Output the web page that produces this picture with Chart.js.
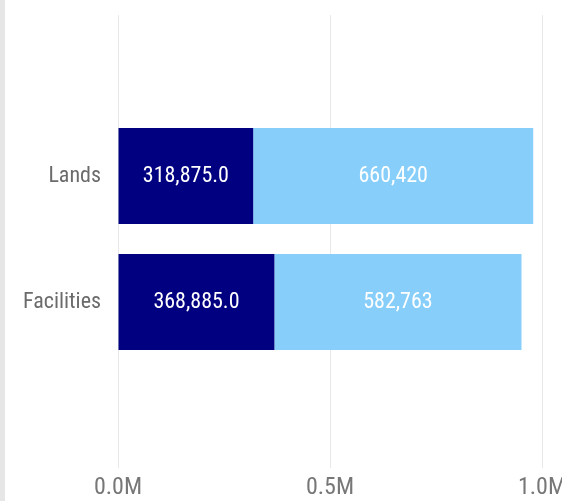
<!DOCTYPE html>
<html>
<head>
<meta charset="utf-8">
<script src="https://cdn.jsdelivr.net/npm/chart.js@4.4.1/dist/chart.umd.min.js"></script>
<style>
html, body { margin: 0; padding: 0; background: #fff; }
#wrap { position: relative; width: 562px; height: 501px; }
#edge { position: absolute; left: 0; top: 0; width: 5px; height: 501px; background: #e6e6e6; }
</style>
</head>
<body>
<div id="wrap">
  <canvas id="chart" width="562" height="501"></canvas>
  <div id="edge"></div>
</div>
<script>
// chart data
const categories = ['Lands', 'Facilities'];
const firstValues = [318875.0, 368885.0];
const secondValues = [660420, 582763];
const xTickLabels = ['0.0M', '0.5M', '1.0M'];

const fontStack = "'Roboto Condensed', Roboto, sans-serif";
const gridColor = '#e8e8e8';

// draw the value labels in the middle of each bar
const barLabels = {
    id: 'barLabels',
    afterDatasetsDraw(chart) {
        const ctx = chart.ctx;
        ctx.save();
        ctx.fillStyle = '#ffffff';
        ctx.font = '22px ' + fontStack;
        ctx.textAlign = 'center';
        ctx.textBaseline = 'middle';
        chart.data.datasets.forEach((ds, i) => {
            chart.getDatasetMeta(i).data.forEach((bar, j) => {
                const p = bar.getCenterPoint();
                ctx.fillText(ds.formatLabel(ds.data[j]), p.x, p.y);
            });
        });
        ctx.restore();
    }
};

const ctx = document.getElementById('chart').getContext('2d');

new Chart(ctx, {
    type: 'bar',
    data: {
        labels: categories,
        datasets: [{
            data: firstValues,
            backgroundColor: '#000080',
            borderWidth: 0,
            barPercentage: 0.76,
            categoryPercentage: 1,
            formatLabel: v => v.toLocaleString('en-US', { minimumFractionDigits: 1, maximumFractionDigits: 1 })
        }, {
            data: secondValues,
            backgroundColor: '#87cefa',
            borderWidth: 0,
            barPercentage: 0.76,
            categoryPercentage: 1,
            formatLabel: v => v.toLocaleString('en-US', { maximumFractionDigits: 0 })
        }]
    },
    options: {
        indexAxis: 'y',
        responsive: false,
        animation: false,
        layout: { padding: { top: 15, right: 20, bottom: 0, left: 0 } },
        plugins: {
            legend: { display: false },
            tooltip: { enabled: false }
        },
        scales: {
            x: {
                type: 'linear',
                position: 'bottom',
                stacked: true,
                min: 0,
                max: 1000000,
                ticks: {
                    stepSize: 500000,
                    maxRotation: 0,
                    padding: 0,
                    color: '#777777',
                    font: { family: fontStack, size: 24, lineHeight: '39px' },
                    callback: (v, i) => xTickLabels[i]
                },
                grid: { color: gridColor, tickLength: 103 },
                border: { display: false },
                afterFit(scale) {
                    // let the last label run off the edge like the original
                    scale.paddingLeft = 0;
                    scale.paddingRight = 0;
                    scale.height = 136;
                }
            },
            x2: {
                type: 'linear',
                position: 'top',
                min: 0,
                max: 1000000,
                ticks: { stepSize: 500000, display: false },
                grid: { color: gridColor, tickLength: 98 },
                border: { display: false }
            },
            y: {
                stacked: true,
                offset: true,
                grid: { display: false, drawTicks: false },
                border: { display: false },
                ticks: {
                    padding: 17,
                    color: '#6b6b6b',
                    font: { family: fontStack, size: 22 }
                },
                afterFit(scale) {
                    scale.width = 118;
                }
            }
        }
    },
    plugins: [barLabels]
});
</script>
</body>
</html>
